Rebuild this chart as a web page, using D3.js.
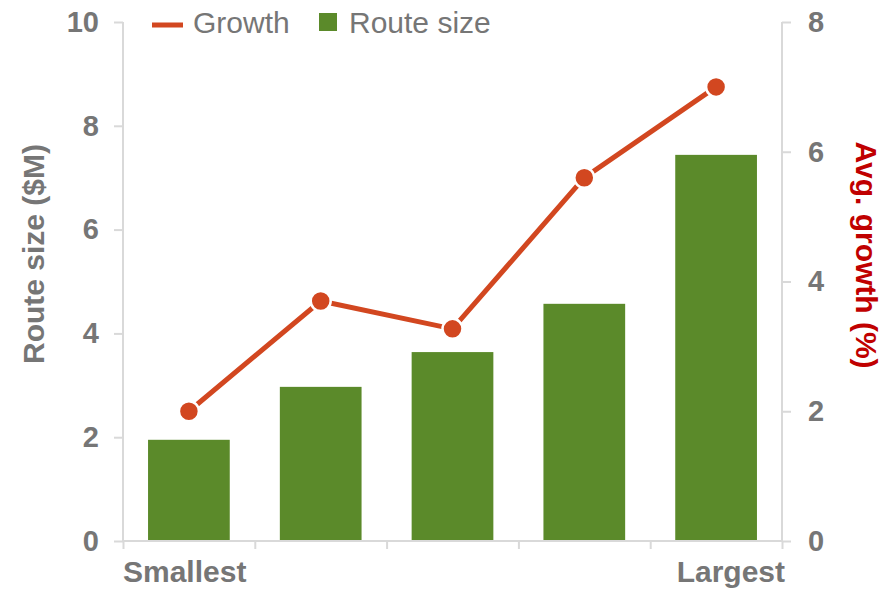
<!DOCTYPE html>
<html>
<head>
<meta charset="utf-8">
<script src="https://cdn.jsdelivr.net/npm/d3@7"></script>
<style>
  body { margin: 0; background: #fff; }
  svg text { font-family: "Liberation Sans", Arial, sans-serif; }
</style>
</head>
<body>
<div id="chart"></div>
<script>
// chart data
var categories = ["1", "2", "3", "4", "5"];
var routeSize = [1.95, 2.97, 3.64, 4.57, 7.44];   // $M, left axis
var growth = [2.0, 3.7, 3.27, 5.6, 7.0];          // %, right axis
var leftTicks = [0, 2, 4, 6, 8, 10];
var rightTicks = [0, 2, 4, 6, 8];
var endLabels = ["Smallest", "Largest"];

var width = 896, height = 590;
var margin = {top: 22, right: 114, bottom: 49, left: 123};
var innerW = width - margin.left - margin.right;
var innerH = height - margin.top - margin.bottom;

var grey = "#767676", axisCol = "#d9d9d9";
var green = "#5b8a2a", orange = "#d24720", red = "#c00000";

var svg = d3.select("#chart").append("svg")
	.attr("width", width)
	.attr("height", height);

var g = svg.append("g")
	.attr("transform", "translate(" + margin.left + "," + margin.top + ")");

var x = d3.scaleBand().domain(categories).range([0, innerW]).paddingInner(0.38).paddingOuter(0.19);
var xEdges = d3.scalePoint().domain(d3.range(categories.length + 1)).range([0, innerW]);
var yLeft = d3.scaleLinear().domain([0, 10]).range([innerH, 0]);
var yRight = d3.scaleLinear().domain([0, 8]).range([innerH, 0]);

// bars
g.selectAll(".bar")
	.data(routeSize)
	.enter().append("rect")
	.attr("class", "bar")
	.attr("x", function(d, i) { return x(categories[i]); })
	.attr("width", x.bandwidth())
	.attr("y", function(d) { return yLeft(d); })
	.attr("height", function(d) { return innerH - yLeft(d); })
	.style("fill", green);

// left axis
var leftAxis = g.append("g")
	.call(d3.axisLeft(yLeft).tickValues(leftTicks).tickSize(9).tickPadding(15));
// right axis
var rightAxis = g.append("g")
	.attr("transform", "translate(" + innerW + ",0)")
	.call(d3.axisRight(yRight).tickValues(rightTicks).tickSize(9).tickPadding(17));
// bottom axis with tick marks at the category edges
var bottomAxis = g.append("g")
	.attr("transform", "translate(0," + innerH + ")")
	.call(d3.axisBottom(xEdges).tickSize(8).tickFormat(""));

[leftAxis, rightAxis, bottomAxis].forEach(function(a) {
	a.select(".domain").attr("stroke", axisCol).attr("stroke-width", 2);
	a.selectAll(".tick line").attr("stroke", axisCol).attr("stroke-width", 2);
	a.selectAll(".tick text")
		.style("font-size", "29px")
		.style("font-weight", "bold")
		.attr("fill", grey);
});
leftAxis.select(".domain").attr("d", "M0," + innerH + "V0");
rightAxis.select(".domain").attr("d", "M0," + innerH + "V0");
bottomAxis.select(".domain").attr("d", "M0,0H" + innerW);

// end labels under x axis
g.append("text")
	.attr("x", 0)
	.attr("y", innerH + 41)
	.attr("text-anchor", "start")
	.style("font-size", "30px")
	.style("font-weight", "bold")
	.attr("fill", grey)
	.text(endLabels[0]);
g.append("text")
	.attr("x", innerW + 3)
	.attr("y", innerH + 41)
	.attr("text-anchor", "end")
	.style("font-size", "30px")
	.style("font-weight", "bold")
	.attr("fill", grey)
	.text(endLabels[1]);

// growth line
var line = d3.line()
	.x(function(d, i) { return x(categories[i]) + x.bandwidth() / 2; })
	.y(function(d) { return yRight(d); });

g.append("path")
	.datum(growth)
	.attr("d", line)
	.attr("fill", "none")
	.attr("stroke", orange)
	.attr("stroke-width", 5);

g.selectAll(".point")
	.data(growth)
	.enter().append("circle")
	.attr("class", "point")
	.attr("cx", function(d, i) { return x(categories[i]) + x.bandwidth() / 2; })
	.attr("cy", function(d) { return yRight(d); })
	.attr("r", 10)
	.style("fill", orange)
	.style("stroke", "#fff")
	.style("stroke-width", 2.5);

// axis titles
svg.append("text")
	.attr("transform", "translate(44,254) rotate(-90)")
	.attr("text-anchor", "middle")
	.style("font-size", "30px")
	.style("font-weight", "bold")
	.attr("fill", grey)
	.text("Route size ($M)");

svg.append("text")
	.attr("transform", "translate(856,255) rotate(90)")
	.attr("text-anchor", "middle")
	.style("font-size", "30px")
	.style("font-weight", "bold")
	.attr("fill", red)
	.text("Avg. growth (%)");

// legend
var legend = svg.append("g");
legend.append("rect")
	.attr("x", 152).attr("y", 22.5)
	.attr("width", 31).attr("height", 5)
	.style("fill", orange);
legend.append("text")
	.attr("x", 193).attr("y", 33)
	.style("font-size", "30px")
	.attr("fill", grey)
	.text("Growth");
legend.append("rect")
	.attr("x", 319).attr("y", 13)
	.attr("width", 18).attr("height", 18)
	.style("fill", green);
legend.append("text")
	.attr("x", 349).attr("y", 33)
	.style("font-size", "30px")
	.attr("fill", grey)
	.text("Route size");
</script>
</body>
</html>
